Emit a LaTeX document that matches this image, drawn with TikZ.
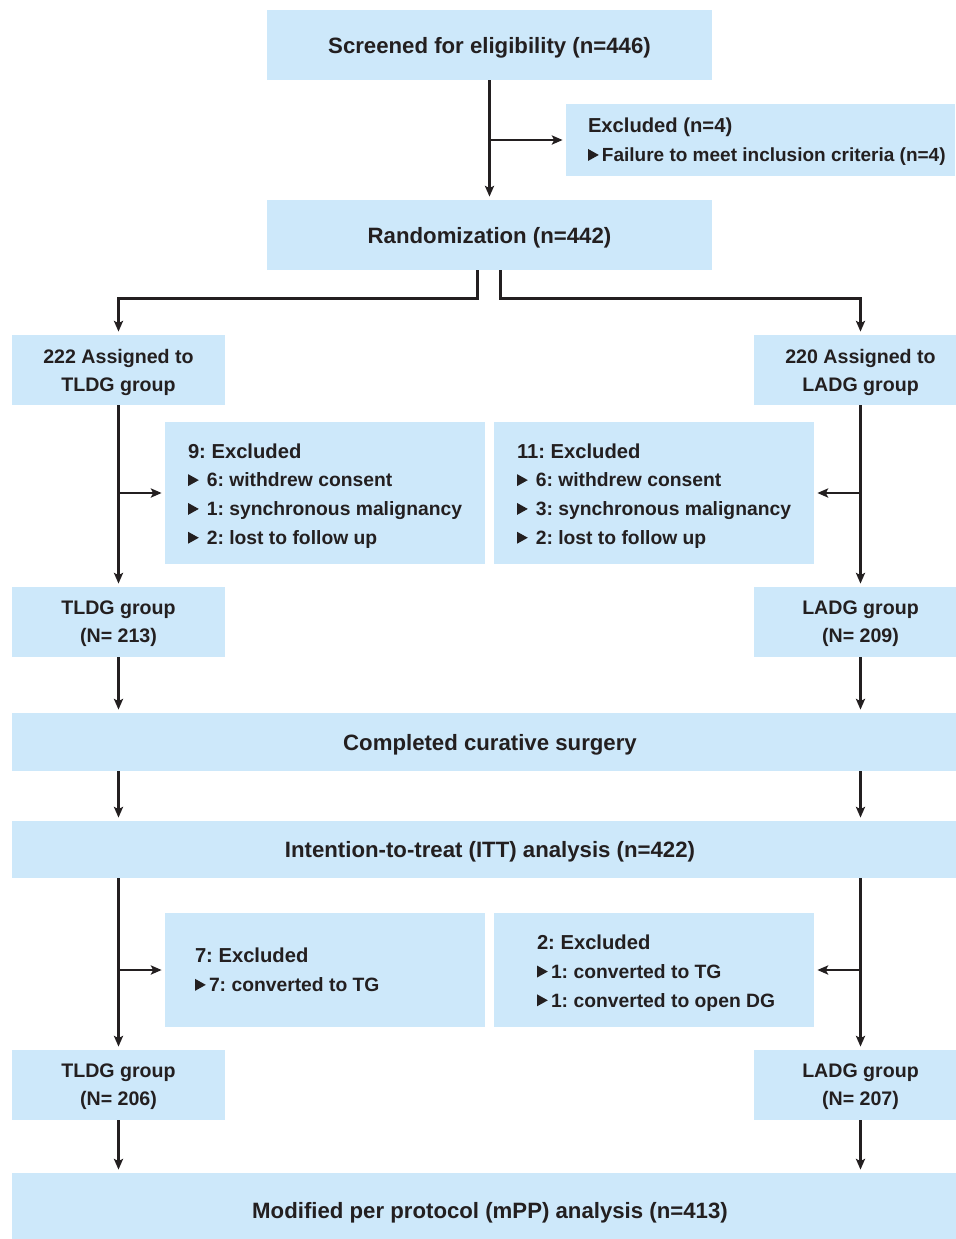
\documentclass[tikz,border=0pt]{standalone}
\usepackage{fontspec}
\setmainfont{Liberation Sans}
\usetikzlibrary{arrows.meta}
\definecolor{boxblue}{RGB}{205,232,250}
\definecolor{ink}{RGB}{35,31,32}
\newcommand{\tri}{\tikz[baseline=0pt]\fill[ink] (0,0.4pt) -- (0,6.4pt) -- (5.4pt,3.4pt) -- cycle;}
\newcommand{\headfont}{\fontsize{10.1}{14.4}\selectfont}
\frenchspacing

\begin{document}
\begin{tikzpicture}[x=0.5pt,y=-0.5pt,
    box/.style={fill=boxblue,inner sep=0pt,align=center,text=ink,text depth=0pt,font=\bfseries\fontsize{11.1}{14}\selectfont},
    grp/.style={box,minimum width=106.5pt,minimum height=35pt,font=\bfseries\fontsize{9.8}{14}\selectfont},
    wide/.style={box,minimum width=478pt},
    exbox/.style={fill=boxblue,inner sep=0pt,minimum width=160pt},
    extext/.style={anchor=west,inner sep=0pt,align=left,text=ink,font=\bfseries\fontsize{9.65}{14.4}\selectfont},
    arr/.style={draw=ink,line width=1.15pt,-{Stealth[length=5.4pt,width=4.6pt,inset=1.2pt]},shorten >=1.5pt}]
    \useasboundingbox (0,0) rectangle (955,1239);

    \node[box,minimum width=222.5pt,minimum height=35pt] (screen) at (489.5,45) {Screened for eligibility (n=446)};
    \node[exbox,minimum width=194.5pt,minimum height=36pt] (excl) at (760.5,140) {};
    \node[extext,font=\bfseries\fontsize{9.5}{14.4}\selectfont] (excltxt) at ([xshift=11pt,yshift=-1pt]excl.west)
        {{\headfont Excluded (n=4)}\\\tri\,Failure to meet inclusion criteria (n=4)};
    \node[box,minimum width=222.5pt,minimum height=35pt] (rand) at (489.5,235) {Randomization (n=442)};

    \node[grp] (asgL) at (118.5,370) {222 Assigned to\\TLDG group};
    \node[grp] (asgR) at (860.5,370) {220 Assigned to\\LADG group};
    \node[exbox,minimum height=71pt] (ex9) at (325,493) {};
    \node[extext] (ex9txt) at ([xshift=11.5pt,yshift=-1.5pt]ex9.west)
        {{\headfont 9: Excluded}\\\tri\hspace{4pt}6: withdrew consent\\\tri\hspace{4pt}1: synchronous malignancy\\\tri\hspace{4pt}2: lost to follow up};
    \node[exbox,minimum height=71pt] (ex11) at (654,493) {};
    \node[extext] (ex11txt) at ([xshift=11.5pt,yshift=-1.5pt]ex11.west)
        {{\headfont 11: Excluded}\\\tri\hspace{4pt}6: withdrew consent\\\tri\hspace{4pt}3: synchronous malignancy\\\tri\hspace{4pt}2: lost to follow up};
    \node[grp] (grpL1) at (118.5,622) {TLDG group\\(N= 213)};
    \node[grp] (grpR1) at (860.5,622) {LADG group\\(N= 209)};

    \node[wide,minimum height=29pt] (surg) at (490,742) {Completed curative surgery};
    \node[wide,minimum height=28.5pt] (itt) at (490,849.5) {Intention-to-treat (ITT) analysis (n=422)};

    \node[exbox,minimum height=57pt] (ex7) at (325,970) {};
    \node[extext] (ex7txt) at ([xshift=15pt]ex7.west)
        {{\headfont 7: Excluded}\\\tri\,7: converted to TG};
    \node[exbox,minimum height=57pt] (ex2) at (654,970) {};
    \node[extext] (ex2txt) at ([xshift=21.5pt,yshift=-1.5pt]ex2.west)
        {{\headfont 2: Excluded}\\\tri\,1: converted to TG\\\tri\,1: converted to open DG};
    \node[grp] (grpL2) at (118.5,1085) {TLDG group\\(N= 206)};
    \node[grp] (grpR2) at (860.5,1085) {LADG group\\(N= 207)};

    \node[wide,minimum height=37pt] (mpp) at (490,1210) {Modified per protocol (mPP) analysis (n=413)};

    \draw[arr] (screen) -- (rand);
    \draw[arr] (screen.south |- excl.west) -- (excl.west);
    \draw[arr] ([xshift=-6pt]rand.south) -- ++(0,-14pt) -| (asgL.north);
    \draw[arr] ([xshift=5.5pt]rand.south) -- ++(0,-14pt) -| (asgR.north);
    \draw[arr] (asgL) -- (grpL1);
    \draw[arr] (asgR) -- (grpR1);
    \draw[arr] (asgL.south |- ex9.west) -- (ex9.west);
    \draw[arr] (asgR.south |- ex11.east) -- (ex11.east);
    \foreach \c in {L,R} {
        \draw[arr] (grp\c1) -- (grp\c1 |- surg.north);
        \draw[arr] (grp\c1 |- surg.south) -- (grp\c1 |- itt.north);
        \draw[arr] (grp\c1 |- itt.south) -- (grp\c2);
        \draw[arr] (grp\c2) -- (grp\c2 |- mpp.north);
    }
    \draw[arr] (grpL2 |- ex7.west) -- (ex7.west);
    \draw[arr] (grpR2 |- ex2.east) -- (ex2.east);
\end{tikzpicture}
\end{document}
